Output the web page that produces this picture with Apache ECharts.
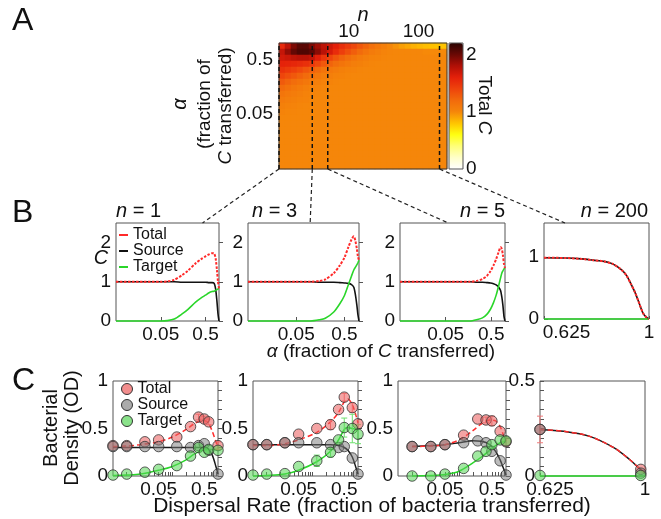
<!DOCTYPE html>
<html><head><meta charset="utf-8">
<script src="https://cdn.jsdelivr.net/npm/echarts@6/dist/echarts.min.js"></script>
<style>html,body{margin:0;padding:0;background:#fff}#c{width:661px;height:519px}</style>
</head><body><div id="c"></div>
<script>
// ================= DATA =================
// Panel A: total C over (n, alpha); columns = n (log spaced centres), rows = alpha (top row = largest alpha)
const hmN = [1.10,1.35,1.64,2.0,2.44,2.97,3.62,4.42,5.38,6.56,8.0,9.75,11.9,14.5,17.7,21.5,26.2,32,39,47.5,58,71,86,105,128,156,190,232];
const hmAlpha = [0.882,0.685,0.532,0.414,0.321,0.250,0.194,0.151,0.117,0.091,0.0707,0.0550,0.0427,0.0332,0.0258,0.0200,0.0156,0.0121,0.0094,0.0073,0.0057];
const hmTotalC = [
 [1.55,1.75,1.95,2.05,2.05,1.95,1.85,1.75,1.68,1.60,1.52,1.45,1.38,1.30,1.23,1.16,1.10,1.05,1.00,0.96,0.92,0.89,0.86,0.84,0.82,0.81,0.80,0.80],
 [1.72,1.88,2.02,2.08,2.08,2.04,1.91,1.77,1.65,1.53,1.43,1.34,1.26,1.19,1.13,1.08,1.05,1.02,1.01,1,1,1,1,1,0.99,0.99,0.99,0.99],
 [1.67,1.70,1.74,1.76,1.76,1.73,1.61,1.48,1.39,1.30,1.23,1.17,1.12,1.08,1.05,1.03,1.02,1.01,1,1,1,1,1,1,1,1,1,1],
 [1.59,1.58,1.56,1.54,1.51,1.47,1.38,1.29,1.23,1.17,1.13,1.09,1.06,1.04,1.02,1.01,1,1,1,1,1,1,1,1,1,1,1,1],
 [1.50,1.46,1.42,1.37,1.31,1.26,1.19,1.13,1.10,1.07,1.04,1.03,1.02,1.01,1,1,1,1,1,1,1,1,1,1,1,1,1,1],
 [1.39,1.34,1.29,1.24,1.19,1.15,1.10,1.06,1.05,1.03,1.02,1.01,1,1,1,1,1,1,1,1,1,1,1,1,1,1,1,1],
 [1.28,1.23,1.18,1.14,1.11,1.08,1.05,1.03,1.02,1.01,1,1,1,1,1,1,1,1,1,1,1,1,1,1,1,1,1,1],
 [1.19,1.15,1.11,1.08,1.05,1.03,1.02,1.01,1,1,1,1,1,1,1,1,1,1,1,1,1,1,1,1,1,1,1,1],
 [1.12,1.09,1.07,1.05,1.03,1.02,1.01,1,1,1,1,1,1,1,1,1,1,1,1,1,1,1,1,1,1,1,1,1],
 [1.08,1.06,1.04,1.03,1.02,1.01,1,1,1,1,1,1,1,1,1,1,1,1,1,1,1,1,1,1,1,1,1,1],
 [1.04,1.03,1.02,1.01,1,1,1,1,1,1,1,1,1,1,1,1,1,1,1,1,1,1,1,1,1,1,1,1],
 [1.02,1.01,1.01,1,1,1,1,1,1,1,1,1,1,1,1,1,1,1,1,1,1,1,1,1,1,1,1,1],
 [1,1,1,1,1,1,1,1,1,1,1,1,1,1,1,1,1,1,1,1,1,1,1,1,1,1,1,1],
 [1,1,1,1,1,1,1,1,1,1,1,1,1,1,1,1,1,1,1,1,1,1,1,1,1,1,1,1],
 [1,1,1,1,1,1,1,1,1,1,1,1,1,1,1,1,1,1,1,1,1,1,1,1,1,1,1,1],
 [1,1,1,1,1,1,1,1,1,1,1,1,1,1,1,1,1,1,1,1,1,1,1,1,1,1,1,1],
 [1,1,1,1,1,1,1,1,1,1,1,1,1,1,1,1,1,1,1,1,1,1,1,1,1,1,1,1],
 [1,1,1,1,1,1,1,1,1,1,1,1,1,1,1,1,1,1,1,1,1,1,1,1,1,1,1,1],
 [1,1,1,1,1,1,1,1,1,1,1,1,1,1,1,1,1,1,1,1,1,1,1,1,1,1,1,1],
 [1,1,1,1,1,1,1,1,1,1,1,1,1,1,1,1,1,1,1,1,1,1,1,1,1,1,1,1],
 [1,1,1,1,1,1,1,1,1,1,1,1,1,1,1,1,1,1,1,1,1,1,1,1,1,1,1,1]
];
const nMarked = [1, 3, 5, 200];
const nRange = [1, 256];
const nTicks = [10, 100];
const alphaRange = [0.005, 1];
const alphaTicks = [0.05, 0.5];
const cbarRange = [0, 2.2];
const cbarTicks = [0, 1, 2];

// Panel B: model curves
const b1Alpha  = [0.005,0.02,0.05,0.07,0.1,0.15,0.2,0.3,0.4,0.5,0.6,0.7,0.78,0.84,0.9,0.95,1];
const b1Total  = [1,1,1,1.01,1.05,1.17,1.28,1.47,1.58,1.65,1.70,1.73,1.72,1.60,1.30,1.00,0.83];
const b1Source = [1,1,1,1,1,0.99,0.99,0.99,0.99,0.99,0.98,0.98,0.96,0.82,0.50,0.18,0];
const b1Target = [0,0,0,0.01,0.05,0.18,0.29,0.48,0.59,0.66,0.72,0.75,0.76,0.78,0.80,0.82,0.83];

const b2Alpha  = [0.005,0.05,0.1,0.15,0.2,0.3,0.4,0.5,0.6,0.7,0.78,0.84,0.9,0.95,1];
const b2Total  = [1,1,1,1.02,1.06,1.22,1.42,1.62,1.88,2.08,2.16,2.05,1.85,1.65,1.55];
const b2Source = [1,1,1,0.99,0.99,0.99,0.98,0.97,0.96,0.93,0.86,0.68,0.42,0.16,0];
const b2Target = [0,0,0,0.03,0.07,0.23,0.44,0.65,0.92,1.15,1.30,1.37,1.43,1.49,1.55];

const b3Alpha  = [0.005,0.1,0.17,0.25,0.32,0.4,0.48,0.56,0.64,0.72,0.8,0.85,0.9,0.95,1];
const b3Total  = [1,1,1,1.03,1.07,1.15,1.27,1.42,1.58,1.75,1.88,1.84,1.68,1.45,1.35];
const b3Source = [1,1,1,0.99,0.99,0.98,0.97,0.95,0.92,0.87,0.78,0.62,0.40,0.12,0];
const b3Target = [0,0,0,0.04,0.08,0.17,0.30,0.47,0.66,0.88,1.10,1.22,1.28,1.33,1.35];

const b4Alpha  = [0.625,0.70,0.76,0.80,0.84,0.87,0.90,0.92,0.935,0.95,0.962,0.978,0.99,1.0];
const b4Total  = [0.99,0.985,0.97,0.95,0.93,0.89,0.80,0.70,0.57,0.43,0.29,0.10,0.03,0];
const b4Source = [0.99,0.985,0.97,0.95,0.93,0.89,0.80,0.70,0.57,0.43,0.29,0.10,0.03,0];
const b4Target = [0,0,0,0,0,0,0,0,0,0,0,0,0,0];

const bYTicks = [0, 1, 2];
const b4YTicks = [0, 1];
const b4XTicks = [0.625, 1];

// Panel C: measured points (with error bars) and model fits
const c1Rate   = [0.005,0.01,0.025,0.05,0.125,0.25,0.375,0.5,0.625,1];
const c1Total  = [0.32,0.32,0.36,0.38,0.41,0.52,0.62,0.60,0.57,0.32];
const c1Source = [0.31,0.31,0.31,0.31,0.31,0.30,0.32,0.34,0.27,0.02];
const c1Target = [0.01,0.02,0.04,0.07,0.11,0.21,0.30,0.25,0.28,0.27];
const c1TotalErr  = [0,0,0,0,0,0,0.03,0.03,0.03,0.04];
const c1TargetErr = [0,0,0,0,0,0,0,0,0,0];
const c1FitRate   = [0.005,0.01,0.02,0.05,0.1,0.2,0.3,0.45,0.6,0.75,0.9,1];
const c1FitTotal  = [0.31,0.315,0.33,0.36,0.41,0.49,0.55,0.585,0.565,0.47,0.36,0.31];
const c1FitSource = [0.30,0.30,0.30,0.30,0.30,0.30,0.30,0.30,0.29,0.22,0.10,0.02];
const c1FitTarget = [0.005,0.01,0.02,0.06,0.10,0.17,0.23,0.27,0.28,0.28,0.28,0.28];

const c2Rate   = [0.005,0.01,0.025,0.05,0.125,0.25,0.375,0.5,0.75,1];
const c2Total  = [0.33,0.33,0.35,0.44,0.50,0.54,0.70,0.83,0.72,0.55];
const c2Source = [0.33,0.33,0.35,0.35,0.35,0.33,0.30,0.31,0.19,0.02];
const c2Target = [0.01,0.02,0.025,0.10,0.16,0.25,0.38,0.51,0.50,0.44];
const c2TotalErr  = [0,0,0,0,0,0.05,0,0.04,0.05,0];
const c2TargetErr = [0,0,0,0,0.06,0.05,0,0.10,0.15,0.10];
const c2FitRate   = [0.005,0.01,0.025,0.05,0.125,0.25,0.375,0.5,0.6,0.75,0.9,1];
const c2FitTotal  = [0.32,0.32,0.34,0.38,0.46,0.57,0.67,0.78,0.81,0.75,0.64,0.56];
const c2FitSource = [0.33,0.33,0.33,0.33,0.33,0.33,0.32,0.30,0.27,0.20,0.09,0.02];
const c2FitTarget = [0,0.005,0.02,0.06,0.15,0.26,0.38,0.49,0.51,0.50,0.49,0.48];

const c3Rate   = [0.01,0.025,0.05,0.125,0.25,0.375,0.5,0.75,1];
const c3Total  = [0.31,0.31,0.33,0.43,0.60,0.59,0.58,0.47,0.36];
const c3Source = [0.31,0.31,0.33,0.35,0.37,0.35,0.26,0.16,0.01];
const c3Target = [0,0,0.02,0.08,0.21,0.26,0.33,0.38,0.37];
const c3TotalErr  = [0,0,0,0,0,0.03,0.05,0,0];
const c3TargetErr = [0,0,0,0,0,0,0,0,0];
const c3FitRate   = [0.01,0.025,0.05,0.1,0.2,0.3,0.45,0.6,0.75,0.9,1];
const c3FitTotal  = [0.31,0.315,0.33,0.38,0.48,0.55,0.59,0.58,0.52,0.42,0.37];
const c3FitSource = [0.31,0.32,0.33,0.35,0.37,0.365,0.33,0.26,0.17,0.07,0.01];
const c3FitTarget = [0,0.005,0.015,0.05,0.14,0.20,0.27,0.32,0.35,0.36,0.36];

const c4Rate   = [0.625,0.985];
const c4Total  = [0.245,0.035];
const c4Source = [0.245,0.015];
const c4Target = [0.003,0.003];
const c4TotalErr  = [0.07,0];
const c4TargetErr = [0,0];
const c4FitRate   = [0.625,0.71,0.80,0.89,0.945,0.98,1.0];
const c4FitTotal  = [0.245,0.235,0.21,0.148,0.087,0.04,0.015];
const c4FitSource = [0.245,0.235,0.21,0.148,0.087,0.04,0.015];
const c4FitTarget = [0,0,0,0,0,0,0];

const cYTicks = [0, 0.5, 1];
const cYMinor = [0,0.1,0.2,0.3,0.4,0.5,0.6,0.7,0.8,0.9,1];
const c4YTicks = [0, 0.5];
const c4YMinor = [0,0.05,0.1,0.15,0.2,0.25,0.3,0.35,0.4,0.45,0.5];
const cXMinor = [0.01,0.02,0.03,0.04,0.05,0.06,0.07,0.08,0.09,0.1,0.2,0.3,0.4,0.5,0.6,0.7,0.8,0.9];

// ================= STYLE / LAYOUT =================
const FONT = "'Liberation Sans', Arial, Helvetica, sans-serif";
const L10 = Math.log10;
const LIN = v => v;
const RED = '#ff2a2a', BLACK = '#111111', GREEN = '#2ad62a';
const PT_RED = 'rgba(236,92,92,0.7)', PT_GRAY = 'rgba(120,120,120,0.62)', PT_GREEN = 'rgba(88,214,88,0.7)';
const LBL = {fontSize: 19, color: '#111', fontFamily: FONT};
const BOX = {show: true, borderColor: '#555', borderWidth: 1, backgroundColor: 'rgba(0,0,0,0)'};

const grids = [
  {left: 279, top: 43, width: 168, height: 126},
  Object.assign({left: 279, top: 43, width: 168, height: 126, z: 5}, BOX, {borderColor: '#333'}),
  Object.assign({left: 449, top: 43, width: 14, height: 126, z: 5}, BOX),
  Object.assign({left: 116, top: 223, width: 103, height: 98}, BOX),
  Object.assign({left: 248, top: 223, width: 111, height: 98}, BOX),
  Object.assign({left: 400, top: 223, width: 105, height: 98}, BOX),
  Object.assign({left: 544, top: 223, width: 105, height: 96}, BOX),
  Object.assign({left: 113, top: 381, width: 105, height: 95}, BOX),
  Object.assign({left: 253, top: 381, width: 105, height: 95}, BOX),
  Object.assign({left: 398, top: 381, width: 108, height: 95}, BOX),
  Object.assign({left: 540, top: 381, width: 105, height: 95}, BOX)
];
const connFrac = [0.84, 0.56, 0.46, 0.2];

function tickText(ticks, v, f) {
  const t = ticks.find(t => Math.abs(f(t) - v) < 1e-6);
  return t === undefined ? '' : String(t);
}
function logX(gi, minor) {
  return {type: 'value', gridIndex: gi, min: L10(alphaRange[0]), max: L10(alphaRange[1]),
    axisLine: {show: false}, splitLine: {show: false},
    axisTick: {show: true, inside: true, length: 4, lineStyle: {color: '#555'}, customValues: (minor || alphaTicks).map(L10)},
    axisLabel: Object.assign({customValues: alphaTicks.map(L10), margin: 4, formatter: v => tickText(alphaTicks, v, L10)}, LBL)};
}
function linX(gi, ticks, shift) {
  return {type: 'value', gridIndex: gi, min: ticks[0], max: ticks[ticks.length - 1],
    axisLine: {show: false}, splitLine: {show: false},
    axisTick: {show: true, inside: true, length: 3, lineStyle: {color: '#555'}, customValues: ticks},
    axisLabel: Object.assign({customValues: ticks, margin: 4,
      formatter: v => Math.abs(v - ticks[0]) < 1e-9 ? '{l|' + ticks[0] + '}' : String(v),
      rich: {l: {fontSize: 19, fontFamily: FONT, color: '#111', padding: [0, 0, 0, shift]}}}, LBL)};
}
function yAx(gi, max, labels, minor) {
  return {type: 'value', gridIndex: gi, min: 0, max: max,
    axisLine: {show: false}, splitLine: {show: false},
    axisTick: {show: true, inside: true, length: 4, lineStyle: {color: '#555'}, customValues: minor},
    axisLabel: Object.assign({customValues: labels, margin: 5, formatter: v => String(v)}, LBL)};
}

const xAxis = [
  {type: 'category', gridIndex: 0, data: hmN.map(String), show: false},
  {type: 'value', gridIndex: 1, position: 'top', min: L10(nRange[0]), max: L10(nRange[1]),
    axisLine: {show: false}, axisTick: {show: false}, splitLine: {show: false},
    axisLabel: Object.assign({customValues: nTicks.map(L10), margin: 2, formatter: v => tickText(nTicks, v, L10)}, LBL)},
  {type: 'value', gridIndex: 2, show: false, min: 0, max: 1},
  logX(3), logX(4), logX(5), linX(6, b4XTicks, 45),
  logX(7, cXMinor), logX(8, cXMinor), logX(9, cXMinor), linX(10, b4XTicks, 20)
];
const yAxis = [
  {type: 'category', gridIndex: 0, data: hmAlpha.map(String), inverse: true, show: false},
  {type: 'value', gridIndex: 1, min: L10(alphaRange[0]), max: L10(alphaRange[1]),
    axisLine: {show: false}, axisTick: {show: false}, splitLine: {show: false},
    axisLabel: Object.assign({customValues: alphaTicks.map(L10), margin: 6, formatter: v => tickText(alphaTicks, v, L10)}, LBL)},
  {type: 'value', gridIndex: 2, position: 'right', min: cbarRange[0], max: cbarRange[1],
    axisLine: {show: false}, axisTick: {show: false}, splitLine: {show: false},
    axisLabel: Object.assign({customValues: cbarTicks, margin: 3, formatter: v => String(v)}, LBL)},
  yAx(3, 2.5, bYTicks, bYTicks), yAx(4, 2.5, bYTicks, bYTicks), yAx(5, 2.5, bYTicks, bYTicks),
  yAx(6, 1.55, b4YTicks, b4YTicks),
  yAx(7, 1, cYTicks, cYMinor), yAx(8, 1, cYTicks, cYMinor), yAx(9, 1, cYTicks, cYMinor),
  yAx(10, 0.5, c4YTicks, c4YMinor)
];

// ================= SERIES =================
const series = [];
const hmData = [];
hmTotalC.forEach((row, r) => row.forEach((v, c) => hmData.push([c, r, v])));
series.push({type: 'heatmap', xAxisIndex: 0, yAxisIndex: 0, data: hmData, progressive: 0,
  itemStyle: {borderWidth: 0}, emphasis: {disabled: true}, z: 1});
nMarked.forEach(n => series.push({type: 'line', xAxisIndex: 1, yAxisIndex: 1, symbol: 'none', clip: false, silent: true, z: 10,
  data: [[L10(n), L10(alphaRange[0])], [L10(n), L10(alphaRange[1])]],
  lineStyle: {color: '#111', width: 1.5, type: [4, 3]}}));

function line(name, gi, xs, ys, f, color, width, dash, smooth) {
  return {type: 'line', name: name, xAxisIndex: gi, yAxisIndex: gi, symbol: 'none', showSymbol: false,
    smooth: smooth, clip: false, silent: true, z: 3,
    data: xs.map((x, i) => [f(x), ys[i]]), itemStyle: {color: color},
    lineStyle: {color: color, width: width, type: dash || 'solid'}};
}
function pts(name, gi, xs, ys, f, fill) {
  return {type: 'scatter', name: name, xAxisIndex: gi, yAxisIndex: gi, symbolSize: 10.5, clip: false, silent: true, z: 6,
    data: xs.map((x, i) => [f(x), ys[i]]), itemStyle: {color: fill, borderColor: '#333', borderWidth: 1}};
}
function errs(gi, xs, ys, es, f, color) {
  const d = [];
  xs.forEach((x, i) => { if (es[i] > 0) d.push([f(x), ys[i] - es[i], ys[i] + es[i]]); });
  return {type: 'custom', xAxisIndex: gi, yAxisIndex: gi, data: d, silent: true, z: 5, clip: false,
    encode: {x: 0, y: [1, 2]},
    renderItem: (params, api) => {
      const a = api.coord([api.value(0), api.value(1)]);
      const b = api.coord([api.value(0), api.value(2)]);
      const st = {stroke: color, lineWidth: 1};
      return {type: 'group', children: [
        {type: 'line', shape: {x1: a[0], y1: a[1], x2: b[0], y2: b[1]}, style: st},
        {type: 'line', shape: {x1: a[0] - 3, y1: a[1], x2: a[0] + 3, y2: a[1]}, style: st},
        {type: 'line', shape: {x1: b[0] - 3, y1: b[1], x2: b[0] + 3, y2: b[1]}, style: st}]};
    }};
}

const bPanels = [
  [3, b1Alpha, b1Total, b1Source, b1Target, L10],
  [4, b2Alpha, b2Total, b2Source, b2Target, L10],
  [5, b3Alpha, b3Total, b3Source, b3Target, L10],
  [6, b4Alpha, b4Total, b4Source, b4Target, LIN]
];
bPanels.forEach(([gi, xs, tot, src, tgt, f]) => {
  series.push(line('Source', gi, xs, src, f, BLACK, 1.6, null, 0.25));
  series.push(line('Target', gi, xs, tgt, f, GREEN, 1.6, null, 0.25));
  series.push(line('Total', gi, xs, tot, f, RED, 2, [2.5, 1.5], 0.25));
});

const cPanels = [
  [7, L10, c1Rate, c1Total, c1Source, c1Target, c1TotalErr, c1TargetErr, c1FitRate, c1FitTotal, c1FitSource, c1FitTarget],
  [8, L10, c2Rate, c2Total, c2Source, c2Target, c2TotalErr, c2TargetErr, c2FitRate, c2FitTotal, c2FitSource, c2FitTarget],
  [9, L10, c3Rate, c3Total, c3Source, c3Target, c3TotalErr, c3TargetErr, c3FitRate, c3FitTotal, c3FitSource, c3FitTarget],
  [10, LIN, c4Rate, c4Total, c4Source, c4Target, c4TotalErr, c4TargetErr, c4FitRate, c4FitTotal, c4FitSource, c4FitTarget]
];
cPanels.forEach(([gi, f, xs, tot, src, tgt, totE, tgtE, fx, ftot, fsrc, ftgt]) => {
  series.push(line('Source', gi, fx, fsrc, f, '#1a1a1a', 1.5, null, 0.3));
  series.push(line('Target', gi, fx, ftgt, f, GREEN, 1.5, null, 0.3));
  series.push(line('Total', gi, fx, ftot, f, RED, 1.5, [5, 3], 0.3));
  series.push(errs(gi, xs, tot, totE, f, '#f07a7a'));
  series.push(errs(gi, xs, tgt, tgtE, f, '#6ee06e'));
  series.push(pts('Total', gi, xs, tot, f, PT_RED));
  series.push(pts('Source', gi, xs, src, f, PT_GRAY));
  series.push(pts('Target', gi, xs, tgt, f, PT_GREEN));
});

const legendText = {fontSize: 16, fontFamily: FONT, color: '#111'};
const option = {
  animation: false,
  backgroundColor: '#ffffff',
  textStyle: {fontFamily: FONT},
  grid: grids,
  xAxis: xAxis,
  yAxis: yAxis,
  visualMap: [{type: 'continuous', seriesIndex: [0], dimension: 2, min: cbarRange[0], max: cbarRange[1],
    calculable: false, show: true, orient: 'vertical', left: 449, top: 43, itemWidth: 14, itemHeight: 126,
    padding: 0, text: null, hoverLink: false, z: 4,
    inRange: {color: ['#ffffff','#ffffc8','#ffff78','#ffff10','#ffc400','#f5860a','#f26a0c','#ee430c','#e4200a','#b01006','#6a0804','#2a0402']}}],
  legend: [
    {left: 119, top: 227, orient: 'vertical', itemGap: 0, itemWidth: 9, itemHeight: 2, padding: 0, selectedMode: false,
      textStyle: legendText,
      data: [{name: 'Total', icon: 'rect', itemStyle: {color: RED, borderWidth: 0}},
             {name: 'Source', icon: 'rect', itemStyle: {color: BLACK, borderWidth: 0}},
             {name: 'Target', icon: 'rect', itemStyle: {color: GREEN, borderWidth: 0}}]},
    {left: 121, top: 381, orient: 'vertical', itemGap: 0, itemWidth: 11, itemHeight: 11, padding: 0, selectedMode: false,
      textStyle: legendText,
      data: [{name: 'Total', icon: 'circle', itemStyle: {color: PT_RED, borderColor: '#333', borderWidth: 1}},
             {name: 'Source', icon: 'circle', itemStyle: {color: PT_GRAY, borderColor: '#333', borderWidth: 1}},
             {name: 'Target', icon: 'circle', itemStyle: {color: PT_GREEN, borderColor: '#333', borderWidth: 1}}]}
  ],
  series: series
};

const chart = echarts.init(document.getElementById('c'), null, {renderer: 'canvas'});
chart.setOption(option);

// ================= TEXT / CONNECTORS =================
function txt(x, y, text, size, opts) {
  opts = opts || {};
  return {type: 'text', x: x, y: y, rotation: opts.rot || 0, z: 20, silent: true,
    style: {text: text, fontSize: size, fontFamily: FONT, fill: '#111', align: opts.align || 'center',
      verticalAlign: opts.va || 'middle', fontStyle: opts.italic ? 'italic' : 'normal',
      rich: {i: {fontStyle: 'italic', fontSize: size, fontFamily: FONT, fill: '#111'}}}};
}
const R90 = Math.PI / 2;
const graphics = [
  txt(12, 21, 'A', 32, {align: 'left'}),
  txt(12, 213, 'B', 32, {align: 'left'}),
  txt(12, 381, 'C', 32, {align: 'left'}),
  txt(363, 15, 'n', 20, {italic: true}),
  txt(180, 104, 'α', 20, {italic: true, rot: R90}),
  txt(205, 104, '(fraction of', 19, {rot: R90}),
  txt(226, 106, '{i|C} transferred)', 19, {rot: R90}),
  txt(484, 105, 'Total {i|C}', 19, {rot: -R90}),
  txt(116, 211, '{i|n} = 1', 20, {align: 'left'}),
  txt(252, 211, '{i|n} = 3', 20, {align: 'left'}),
  txt(505, 211, '{i|n} = 5', 20, {align: 'right'}),
  txt(648, 211, '{i|n} = 200', 20, {align: 'right'}),
  txt(101, 258, 'C', 20, {italic: true}),
  txt(381, 352, '{i|α} (fraction of {i|C} transferred)', 19),
  txt(51, 428, 'Bacterial', 20, {rot: R90}),
  txt(72, 428, 'Density (OD)', 20, {rot: R90}),
  txt(372, 506, 'Dispersal Rate (fraction of bacteria transferred)', 21)
];
nMarked.forEach((n, i) => {
  const p = chart.convertToPixel({gridIndex: 1}, [L10(n), L10(alphaRange[0])]);
  const g = grids[3 + i];
  graphics.push({type: 'line', z: 20, silent: true,
    shape: {x1: p[0], y1: p[1], x2: g.left + connFrac[i] * g.width, y2: g.top},
    style: {stroke: '#222', lineWidth: 1.2, lineDash: [4, 3]}});
});
chart.setOption({graphic: graphics});
</script></body></html>
